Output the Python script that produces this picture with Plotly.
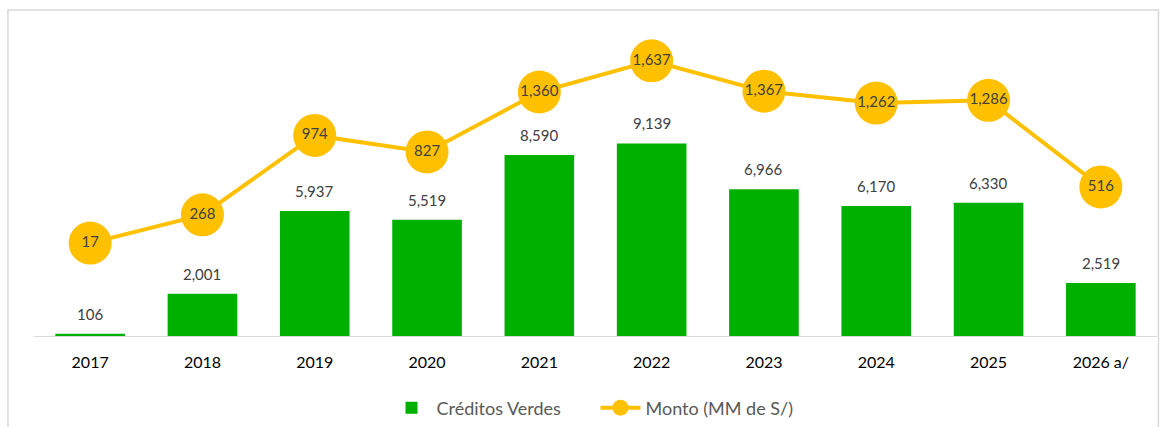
import plotly.graph_objects as go

years = ["2017", "2018", "2019", "2020", "2021", "2022", "2023", "2024", "2025", "2026 a/"]
creditos = [106, 2001, 5937, 5519, 8590, 9139, 6966, 6170, 6330, 2519]
monto = [17, 268, 974, 827, 1360, 1637, 1367, 1262, 1286, 516]

FONT = "Lato"
GREEN = "#00B000"
GOLD = "#FFC000"
LABEL = "#404040"

fig = go.Figure()
fig.add_trace(go.Bar(
    x=years, y=creditos, name="Créditos Verdes",
    marker=dict(color=GREEN, line=dict(width=0)),
))
fig.add_trace(go.Scatter(
    x=years, y=monto, name="Monto (MM de S/)", yaxis="y2",
    mode="lines+markers+text",
    line=dict(color=GOLD, width=4),
    marker=dict(color=GOLD, size=43),
    text=[f"{v:,}" for v in monto], textposition="middle center",
    textfont=dict(family=FONT, size=15, color=LABEL),
    cliponaxis=False,
))

# category axis: position annotations by category index
annotations = [
    dict(x=i, y=v, xref="x", yref="y", text=f"{v:,}", showarrow=False,
         yanchor="middle", yshift=20,
         font=dict(family=FONT, size=15, color=LABEL))
    for i, v in enumerate(creditos)
]

fig.update_layout(
    width=1163, height=427,
    margin=dict(l=34, r=6, t=20, b=91),
    paper_bgcolor="white", plot_bgcolor="white",
    font=dict(family=FONT, color="#000000"),
    bargap=0.38,
    showlegend=True,
    legend=dict(orientation="h", x=0.5, xanchor="center", yref="container",
                y=0.0445, yanchor="middle",
                font=dict(family=FONT, size=18, color="#595959"), itemwidth=40,
                entrywidth=154, entrywidthmode="pixels",
                traceorder="normal"),
    xaxis=dict(type="category", range=[-0.5, 9.5], autorange=False, automargin=False,
               showline=True, linecolor="#D9D9D9", linewidth=1, ticks="",
               ticklabelstandoff=12,
               tickfont=dict(family=FONT, size=16, color="#000000"), showgrid=False),
    yaxis=dict(range=[0, 15000], visible=False, showgrid=False, automargin=False),
    yaxis2=dict(range=[-809, 2000], overlaying="y", visible=False, showgrid=False,
                automargin=False),
    annotations=annotations,
    shapes=[dict(type="rect", xref="paper", yref="paper",
                 x0=-0.0232, x1=1.0013, y0=-0.5, y1=1.0316,
                 line=dict(color="#D9D9D9", width=1.5), fillcolor="rgba(0,0,0,0)", layer="below")],
)

fig.write_html("out.html", config={"displayModeBar": False},
               post_script="document.body.style.margin='0';document.body.style.overflow='hidden';")
